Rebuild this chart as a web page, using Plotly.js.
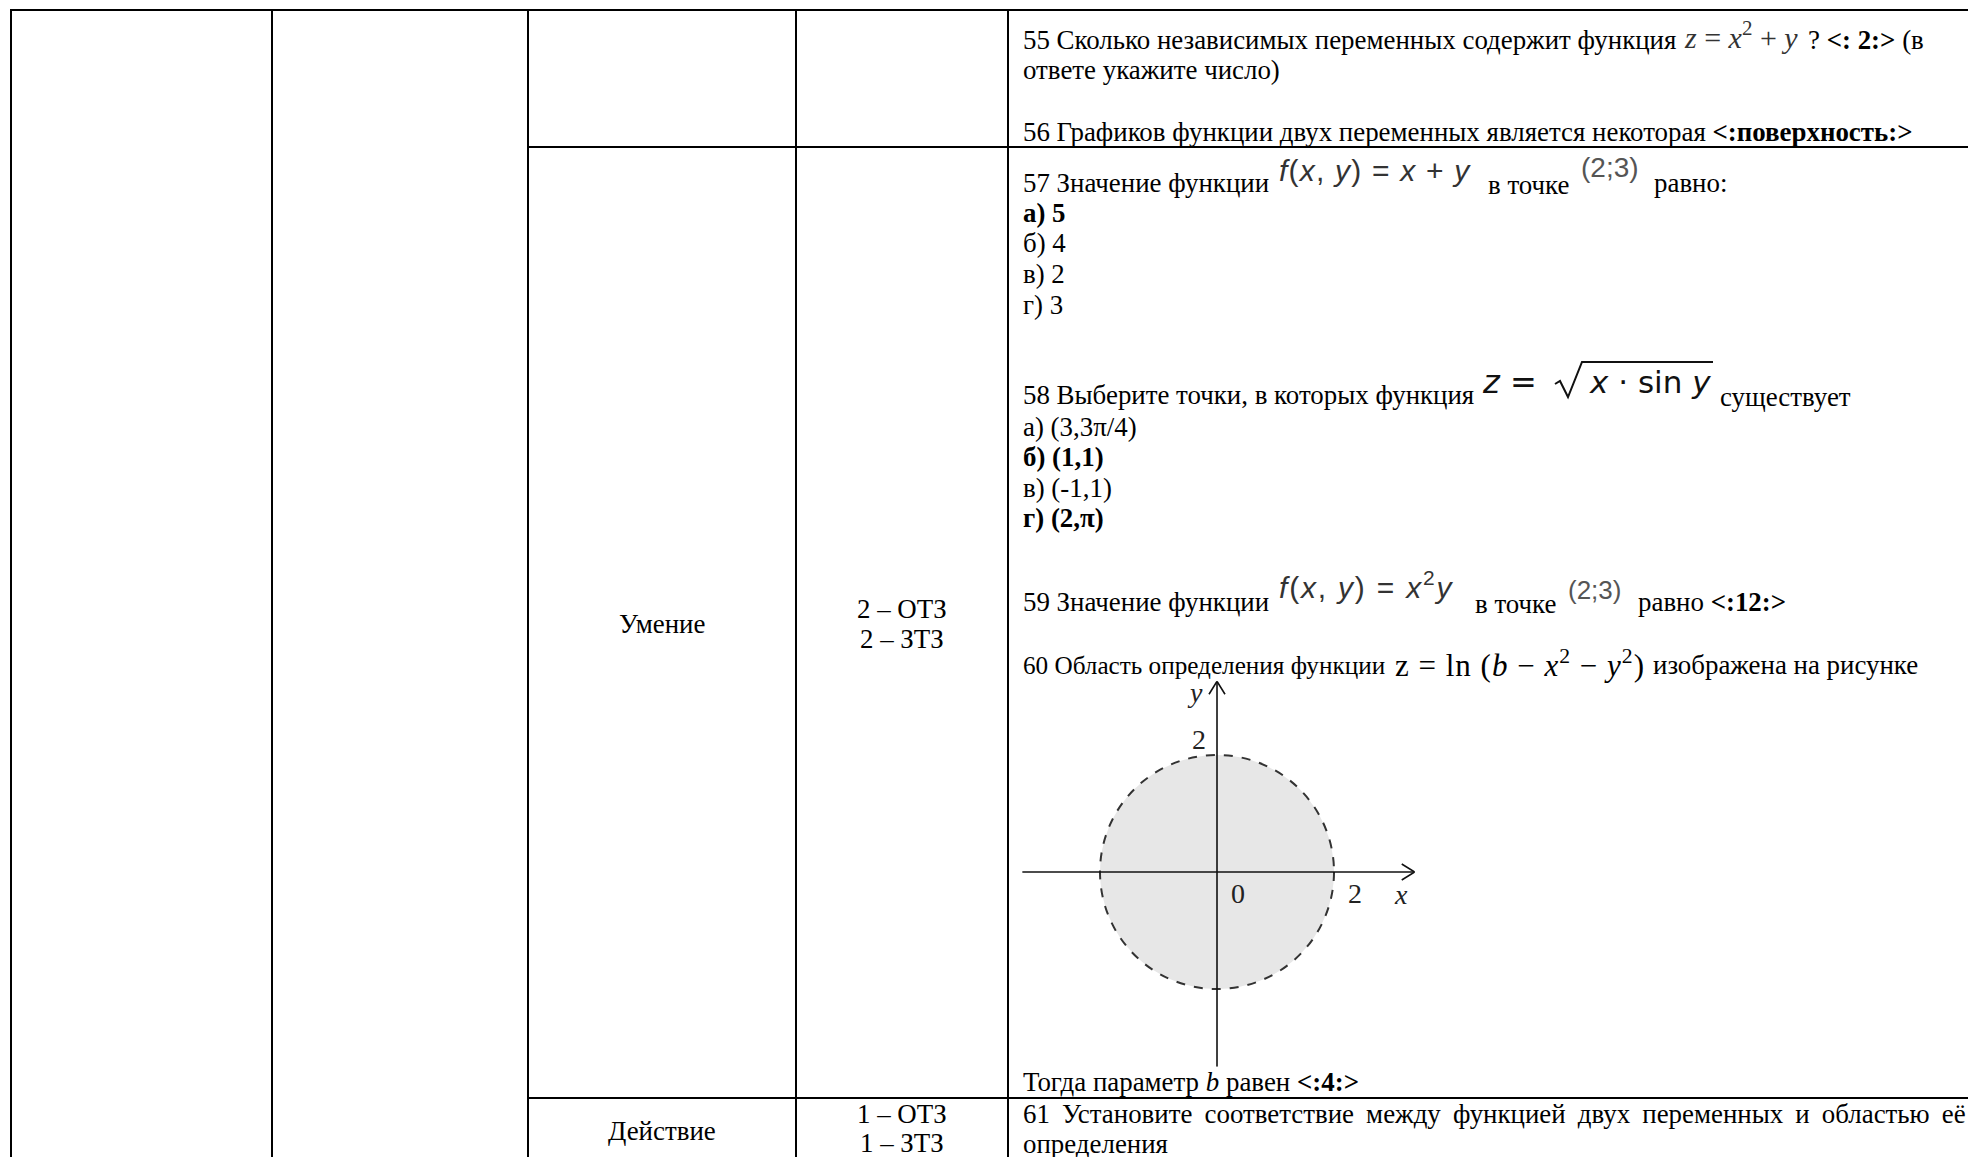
<!DOCTYPE html>
<html><head><meta charset="utf-8">
<script src="https://cdn.plot.ly/plotly-3.0.1.min.js"></script>
<style>html,body{margin:0;padding:0;background:#fff;}#chart{width:1968px;height:1157px;}</style>
</head><body><div id="chart"></div>
<script>
// ---------- content ----------
const competenceLabels = ["Умение", "Действие"];
const taskCountsSkill = ["2 – ОТЗ", "2 – ЗТЗ"];
const taskCountsAction = ["1 – ОТЗ", "1 – ЗТЗ"];
const q55 = ["55 Сколько независимых переменных содержит функция", "? <b>&lt;: 2:&gt;</b> (в", "ответе укажите число)"];
const q56 = "56 Графиков функции двух переменных является некоторая <b>&lt;:поверхность:&gt;</b>";
const q57 = ["57 Значение функции", "в точке", "равно:"];
const q57Options = ["<b>а) 5</b>", "б) 4", "в) 2", "г) 3"];
const q58 = ["58 Выберите точки, в которых функция", "существует"];
const q58Options = ["а) (3,3π/4)", "<b>б) (1,1)</b>", "в) (-1,1)", "<b>г) (2,π)</b>"];
const q59 = ["59 Значение функции", "в точке", "равно <b>&lt;:12:&gt;</b>"];
const q60 = ["60 Область определения функции", "изображена на рисунке"];
const q60Answer = "Тогда параметр <i>b</i> равен <b>&lt;:4:&gt;</b>";
const q61 = ["61 Установите соответствие между функцией двух переменных и областью её", "определения"];
const formulas = {
  f55: "<i>z</i> = <i>x</i><sup>2</sup> + <i>y</i>",
  f57: "<i>f</i>(<i>x</i>, <i>y</i>) = <i>x</i> + <i>y</i>",
  f58a: "<i>z</i> =",
  f58b: "<i>x</i> · sin <i>y</i>",
  f59: "<i>f</i>(<i>x</i>, <i>y</i>) = <i>x</i><sup>2</sup><i>y</i>",
  f60: "z\u00A0=\u00A0ln\u00A0(<i>b</i>\u00A0−\u00A0<i>x</i><sup>2</sup>\u00A0−\u00A0<i>y</i><sup>2</sup>)",
  point: "(2;3)"
};
// figure of question 60
const circleRadius = 2;
const figTickLabels = ["0", "2", "2"];
const figAxisNames = ["x", "y"];

// ---------- layout helpers ----------
const W = 1968, H = 1157;
const SERIF = "Liberation Serif, Times New Roman, serif";
const SANS = "Liberation Sans, Arial, sans-serif";
const FS = 26.9;
const annotations = [];
function T(x, y, text, o) {
  o = o || {};
  annotations.push({
    xref: "x", yref: "y", x: x, y: y, text: text, showarrow: false,
    xanchor: o.xa || "left", yanchor: "middle", align: o.align || "left",
    font: {family: o.family || SERIF, size: o.size || FS, color: o.color || "#000"}
  });
}
const shapes = [];
function L(x0, y0, x1, y1, w) {
  shapes.push({type: "line", xref: "x", yref: "y", x0: x0, y0: y0, x1: x1, y1: y1,
    line: {color: "#000", width: w || 2}});
}
function ls(t, px) { return '<span style="letter-spacing:' + px + 'px">' + t + '</span>'; }

// table grid
const colX = [11, 272, 528, 796, 1008];
const topY = 10;
L(colX[0] - 1, topY, W, topY);
colX.forEach(function (x) { L(x, topY, x, H); });
L(colX[2], 147, W, 147);
L(colX[2], 1098, W, 1098);

// left columns
const cx1 = (colX[2] + colX[3]) / 2, cx2 = (colX[3] + colX[4]) / 2;
T(cx1, 624, competenceLabels[0], {xa: "center"});
T(cx2, 609, taskCountsSkill[0], {xa: "center"});
T(cx2, 639, taskCountsSkill[1], {xa: "center"});
T(cx1, 1131, competenceLabels[1], {xa: "center"});
T(cx2, 1114, taskCountsAction[0], {xa: "center"});
T(cx2, 1143, taskCountsAction[1], {xa: "center"});

// questions
const tx = 1021;
T(tx, 40, q55[0]);
T(1682, 35, formulas.f55, {size: 30, color: "#333"});
T(1806, 40, q55[1]);
T(tx, 70, q55[2]);
T(tx, 132, q56);

T(tx, 183, q57[0]);
T(1277, 170, ls(formulas.f57, 1.2), {family: SANS, size: 30, color: "#333"});
T(1486, 185, q57[1]);
T(1579, 167, formulas.point, {family: SANS, size: 28, color: "#555"});
T(1652, 183, q57[2]);
const optY57 = [213, 243, 274, 305];
q57Options.forEach(function (t, i) { T(tx, optY57[i], t); });

T(tx, 395, q58[0]);
T(1480, 382, formulas.f58a, {family: "DejaVu Sans, sans-serif", size: 32, color: "#111"});
T(1587, 382, formulas.f58b, {family: "DejaVu Sans, sans-serif", size: 31, color: "#111"});
T(1718, 397, q58[1]);
const optY58 = [427, 457, 488, 518];
q58Options.forEach(function (t, i) { T(tx, optY58[i], t); });

T(tx, 602, q59[0]);
T(1277, 585, ls(formulas.f59, 1.8), {family: SANS, size: 30, color: "#333"});
T(1473, 604, q59[1]);
T(1566, 590, formulas.point, {family: SANS, size: 26, color: "#555"});
T(1636, 602, q59[2]);

T(tx, 665, q60[0], {size: 25.2});
T(1393, 663, ls(formulas.f60, 1), {size: 31});
T(1651, 665, q60[1]);
T(tx, 1082, q60Answer);
T(tx, 1114, '<span style="word-spacing:5.4px">' + q61[0] + '</span>');
T(tx, 1144, q61[1]);

// radical sign of the square root (q58)
shapes.push({type: "path", xref: "x", yref: "y",
  path: "M 1555 384 L 1560 381 L 1568 397 L 1582 362 L 1713 362",
  line: {color: "#111", width: 2}});

// ---------- figure (q60) on its own axes ----------
const pxPerUnit = 58.5, cX = 1217, cY = 872;
const xr = [-3.33, 3.38], yr = [-3.33, 3.26];
const dom2x = [(cX + xr[0] * pxPerUnit) / W, (cX + xr[1] * pxPerUnit) / W];
const dom2y = [1 - (cY - yr[0] * pxPerUnit) / H, 1 - (cY - yr[1] * pxPerUnit) / H];

shapes.push({type: "circle", xref: "x2", yref: "y2", layer: "below",
  x0: -circleRadius, y0: -circleRadius, x1: circleRadius, y1: circleRadius,
  fillcolor: "#e7e7e7", line: {color: "#333", width: 2, dash: "dash"}});
shapes.push({type: "line", xref: "x2", yref: "y2", x0: xr[0], y0: 0, x1: xr[1], y1: 0,
  line: {color: "#111", width: 1.6}});
shapes.push({type: "line", xref: "x2", yref: "y2", x0: 0, y0: yr[0], x1: 0, y1: yr[1],
  line: {color: "#111", width: 1.6}});
// open chevron arrow heads at the axis ends
const ahL = 13 / pxPerUnit, ahW = 8 / pxPerUnit;
shapes.push({type: "path", xref: "x2", yref: "y2",
  path: "M " + (xr[1] - ahL) + " " + ahW + " L " + xr[1] + " 0 L " + (xr[1] - ahL) + " " + (-ahW),
  line: {color: "#111", width: 1.6}});
shapes.push({type: "path", xref: "x2", yref: "y2",
  path: "M " + (-ahW) + " " + (yr[1] - ahL) + " L 0 " + yr[1] + " L " + ahW + " " + (yr[1] - ahL),
  line: {color: "#111", width: 1.6}});

function F(x, y, text, italic) {
  annotations.push({xref: "x2", yref: "y2", x: x, y: y, showarrow: false,
    text: italic ? "<i>" + text + "</i>" : text, xanchor: "center", yanchor: "middle",
    font: {family: SERIF, size: 28, color: "#222"}});
}
F(0.36, -0.37, figTickLabels[0]);
F(2.36, -0.37, figTickLabels[1]);
F(-0.31, 2.27, figTickLabels[2]);
F(3.14, -0.39, figAxisNames[0], true);
F(-0.37, 3.06, figAxisNames[1], true);

const data = [{x: [], y: [], type: "scatter", mode: "markers", xaxis: "x2", yaxis: "y2", hoverinfo: "skip"}];
const layout = {
  width: W, height: H, margin: {l: 0, r: 0, t: 0, b: 0},
  paper_bgcolor: "#fff", plot_bgcolor: "rgba(0,0,0,0)", showlegend: false,
  xaxis: {range: [0, W], visible: false, fixedrange: true, domain: [0, 1]},
  yaxis: {range: [H, 0], visible: false, fixedrange: true, domain: [0, 1]},
  xaxis2: {range: xr, visible: false, domain: dom2x, anchor: "y2"},
  yaxis2: {range: yr, visible: false, domain: dom2y, anchor: "x2"},
  shapes: shapes, annotations: annotations
};
Plotly.newPlot("chart", data, layout, {staticPlot: true, displayModeBar: false});
</script></body></html>
